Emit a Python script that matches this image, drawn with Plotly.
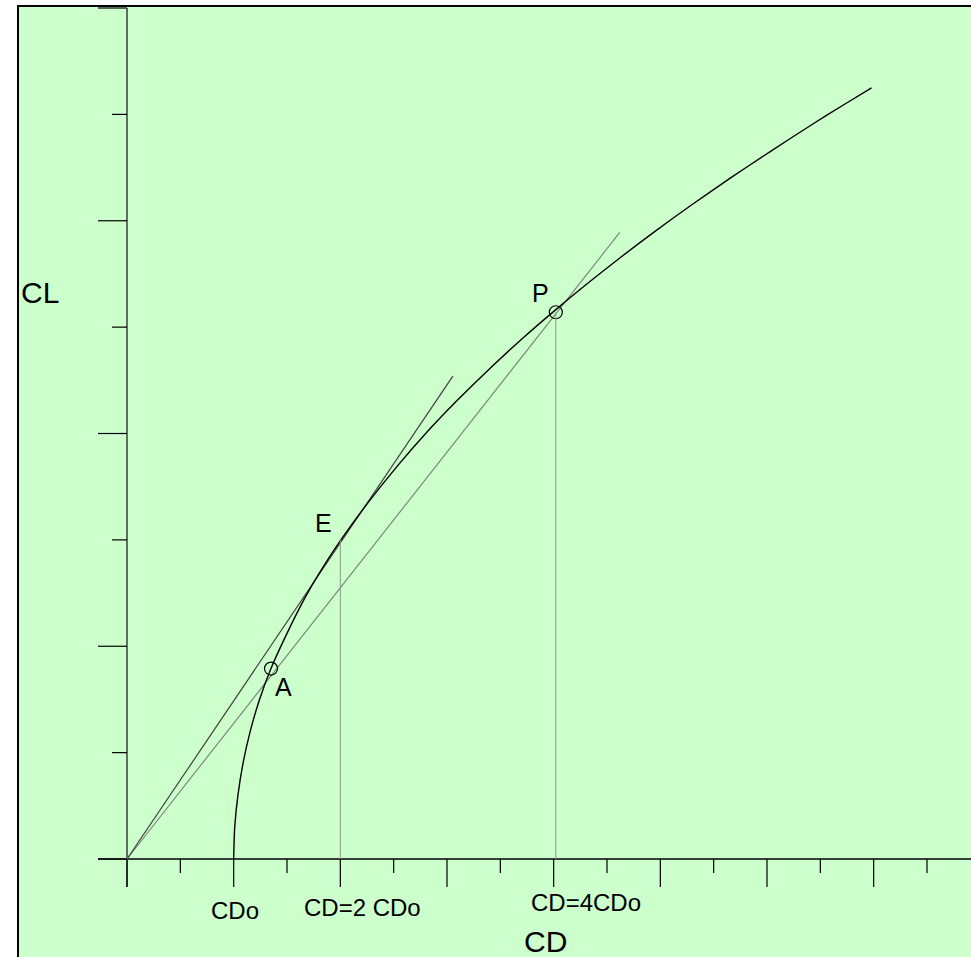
import plotly.graph_objects as go

# ---------------- data (in tick units: CDo = 2 on CD axis) ----------------
curve_cl = [0.00, 0.30, 0.60, 0.90, 1.20, 1.50, 1.78, 2.10, 2.45, 2.70, 3.00, 3.35, 3.70,
            4.00, 4.30, 4.60, 4.90, 5.16, 5.40, 5.65, 5.90, 6.15, 6.40, 6.65, 6.90, 7.10, 7.25]
curve_cd = [2.00, 2.02, 2.08, 2.175, 2.31, 2.485, 2.69, 2.98, 3.33, 3.62, 4.01, 4.52, 5.08,
            5.60, 6.17, 6.78, 7.43, 8.03, 8.61, 9.24, 9.90, 10.59, 11.31, 12.06, 12.83, 13.47, 13.96]

tangent_cd = [0.0, 6.11]
tangent_cl = [0.0, 4.54]
secant_cd = [0.0, 9.24]
secant_cl = [0.0, 5.89]

point_names = ["A", "E", "P"]
point_cd = [2.70, 4.00, 8.04]
point_cl = [1.79, 3.00, 5.14]

x_major_ticks = [0, 2, 4, 6, 8, 10, 12, 14]
x_minor_ticks = [1, 3, 5, 7, 9, 11, 13, 15]
y_major_ticks = [0, 2, 4, 6, 8]
y_minor_ticks = [1, 3, 5, 7]

x_tick_labels = ["CDo", "CD=2 CDo", "CD=4CDo"]
x_tick_label_pos = [2, 4, 8]

# ---------------- geometry / style ----------------
W, H = 971, 957
PX_X = 53.333   # px per CD unit
PX_Y = 106.375  # px per CL unit
ORIGIN_PX = (127, 859)
xr = [-ORIGIN_PX[0] / PX_X, (W - ORIGIN_PX[0]) / PX_X]
yr = [-(H - ORIGIN_PX[1]) / PX_Y, ORIGIN_PX[1] / PX_Y]

FONT = "Liberation Sans, Arial, sans-serif"

fig = go.Figure()

# background frame
shapes = [dict(type="rect", xref="paper", yref="paper",
               x0=18 / W, x1=1.02, y0=-0.02, y1=1 - 6 / H,
               fillcolor="#CCFFCC", line=dict(color="black", width=2), layer="below")]

# axes lines
shapes.append(dict(type="line", xref="x", yref="y", x0=-29 / PX_X, x1=xr[1], y0=0, y1=0,
                   line=dict(color="black", width=1.5)))
shapes.append(dict(type="line", xref="x", yref="y", x0=0, x1=0, y0=-28 / PX_Y, y1=8,
                   line=dict(color="#5f6f5f", width=2)))

# ticks
for t in x_major_ticks:
    shapes.append(dict(type="line", xref="x", yref="y", x0=t, x1=t, y0=0, y1=-28 / PX_Y,
                       line=dict(color="black", width=1.2)))
for t in x_minor_ticks:
    shapes.append(dict(type="line", xref="x", yref="y", x0=t, x1=t, y0=0, y1=-14 / PX_Y,
                       line=dict(color="black", width=1.2)))
for t in y_major_ticks:
    shapes.append(dict(type="line", xref="x", yref="y", x0=0, x1=-29 / PX_X, y0=t, y1=t,
                       line=dict(color="black", width=1.2)))
for t in y_minor_ticks:
    shapes.append(dict(type="line", xref="x", yref="y", x0=0, x1=-15 / PX_X, y0=t, y1=t,
                       line=dict(color="black", width=1.2)))

# vertical guide lines at E and P
for name, cx, cy in zip(point_names, point_cd, point_cl):
    if name in ("E", "P"):
        shapes.append(dict(type="line", xref="x", yref="y", x0=cx, x1=cx, y0=0, y1=cy,
                           line=dict(color="#8a9a8a", width=1)))

# lines through origin
fig.add_trace(go.Scatter(x=secant_cd, y=secant_cl, mode="lines",
                         line=dict(color="#7a8a7a", width=1.2), hoverinfo="skip"))
fig.add_trace(go.Scatter(x=tangent_cd, y=tangent_cl, mode="lines",
                         line=dict(color="#404040", width=1.2), hoverinfo="skip"))
# polar curve
fig.add_trace(go.Scatter(x=curve_cd, y=curve_cl, mode="lines",
                         line=dict(color="black", width=1.4, shape="spline", smoothing=0.8),
                         hoverinfo="skip"))
# circles at A and P
circ_x = [c for n, c in zip(point_names, point_cd) if n != "E"]
circ_y = [c for n, c in zip(point_names, point_cl) if n != "E"]
fig.add_trace(go.Scatter(x=circ_x, y=circ_y, mode="markers",
                         marker=dict(symbol="circle-open", size=13, color="black",
                                     line=dict(width=1.2)), hoverinfo="skip"))

annotations = []
offsets = {"A": (12, -18), "E": (-17, 17), "P": (-15, 19)}
for name, cx, cy in zip(point_names, point_cd, point_cl):
    dx, dy = offsets[name]
    annotations.append(dict(x=cx, y=cy, xref="x", yref="y", text=name, showarrow=False,
                            xanchor="center", yanchor="middle",
                            xshift=dx, yshift=dy, font=dict(family=FONT, size=25, color="black")))
label_shift = {"CDo": (1, -51), "CD=2 CDo": (22, -48), "CD=4CDo": (32, -43)}
for lab, pos in zip(x_tick_labels, x_tick_label_pos):
    dx, dy = label_shift[lab]
    annotations.append(dict(x=pos, y=0, xref="x", yref="y", text=lab, showarrow=False,
                            xanchor="center", yanchor="middle",
                            xshift=dx, yshift=dy, font=dict(family=FONT, size=24, color="black")))
annotations.append(dict(x=40 / W, y=1 - 292 / H, xref="paper", yref="paper", text="CL",
                        xanchor="center", yanchor="middle",
                        showarrow=False, font=dict(family=FONT, size=30, color="black")))
annotations.append(dict(x=545 / W, y=1 - 941 / H, xref="paper", yref="paper", text="CD",
                        xanchor="center", yanchor="middle",
                        showarrow=False, font=dict(family=FONT, size=30, color="black")))

fig.update_layout(
    width=W, height=H, margin=dict(l=0, r=0, t=0, b=0, pad=0),
    paper_bgcolor="white", plot_bgcolor="rgba(0,0,0,0)",
    showlegend=False, shapes=shapes, annotations=annotations,
    xaxis=dict(range=xr, visible=False, fixedrange=True),
    yaxis=dict(range=yr, visible=False, fixedrange=True),
)

fig.write_html("out.html", config={"displayModeBar": False},
               post_script="document.body.style.margin='0px';document.body.style.overflow='hidden';")
